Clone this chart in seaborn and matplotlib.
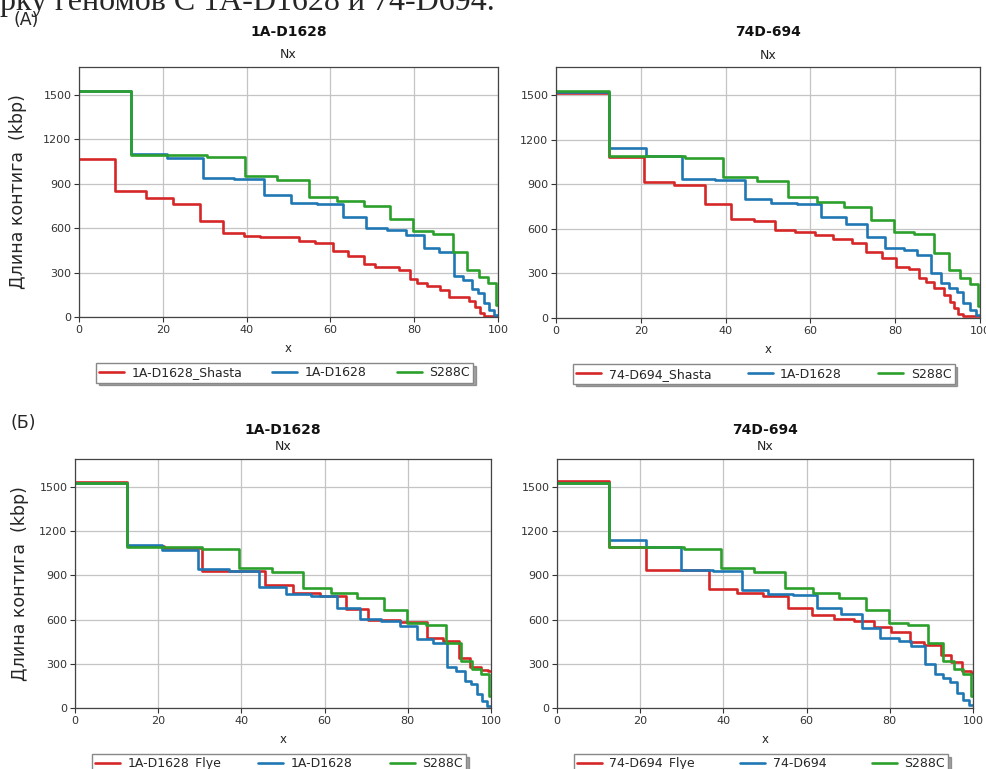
import matplotlib
matplotlib.use("Agg")
import matplotlib.pyplot as plt
from matplotlib.lines import Line2D
import numpy as np
import pandas as pd
import seaborn as sns

# ---------------- data (Nx step curves: x = start of step, y = contig length, kbp) ----------------
S288C_X = [0, 12.5, 30.5, 39.5, 47.3, 54.8, 61.6, 67.9, 74.3, 79.7, 84.4, 89.2, 92.7, 95.4, 97.6, 99.5]
S288C_Y = [1530, 1092, 1079, 950, 923, 813, 782, 747, 663, 579, 564, 440, 321, 268, 229, 80]

D1628_X = [0, 12.4, 20.9, 29.5, 36.9, 44.2, 50.7, 56.8, 63.0, 68.4, 73.5, 78.1, 82.3, 86.0, 89.5,
           91.7, 93.8, 95.3, 96.6, 97.8, 99.0]
D1628_Y = [1528, 1103, 1073, 941, 931, 823, 772, 762, 678, 604, 589, 554, 466, 440, 280,
           248, 186, 161, 93, 48, 14]

D694_X = [0, 12.6, 21.3, 29.7, 37.5, 44.5, 50.8, 56.8, 62.6, 68.3, 73.4, 77.7, 82.1, 85.2, 88.4,
          90.8, 92.7, 94.5, 96.1, 97.6, 99.1]
D694_Y = [1525, 1142, 1090, 937, 929, 802, 776, 765, 680, 635, 546, 473, 457, 424, 301,
          234, 201, 178, 100, 56, 22]

SHASTA_1A_X = [0, 8.6, 16.0, 22.5, 28.9, 34.3, 39.3, 43.2, 52.4, 56.4, 60.7, 64.2, 67.9, 70.7,
               76.3, 78.9, 80.7, 83.0, 86.2, 88.2, 93.0, 94.6, 95.6, 96.7]
SHASTA_1A_Y = [1070, 855, 807, 762, 652, 567, 549, 540, 515, 499, 448, 414, 358, 337,
               315, 256, 229, 207, 180, 133, 110, 67, 27, 9]

SHASTA_74_X = [0, 12.4, 20.8, 27.9, 35.1, 41.3, 46.6, 51.7, 56.4, 61.0, 65.4, 69.8, 73.0, 77.0,
               80.1, 83.3, 85.6, 87.2, 89.2, 91.6, 92.9, 93.9, 94.7, 96.1]
SHASTA_74_Y = [1513, 1083, 914, 896, 769, 664, 651, 591, 580, 557, 530, 502, 446, 406,
               341, 330, 267, 245, 201, 156, 111, 67, 27, 11]

FLYE_1A_X = [0, 12.6, 21.4, 30.6, 45.6, 52.5, 58.9, 65.2, 70.5, 78.1, 84.6, 88.5, 92.4, 95.0, 97.5, 99.3]
FLYE_1A_Y = [1534, 1100, 1088, 932, 838, 778, 762, 673, 596, 583, 475, 454, 336, 280, 261, 250]

FLYE_74_X = [0, 12.4, 21.3, 36.6, 43.2, 49.4, 55.6, 61.2, 66.5, 71.5, 76.1, 80.3, 84.8, 88.3,
             92.3, 94.8, 97.3, 99.4]
FLYE_74_Y = [1541, 1091, 938, 808, 779, 763, 681, 631, 603, 590, 551, 517, 450, 427,
             358, 310, 252, 240]

X_TICKS = [0, 20, 40, 60, 80, 100]
Y_TICKS = [0, 300, 600, 900, 1200, 1500]

RED, BLUE, GREEN = "#d62728", "#1f77b4", "#2ca02c"

# ---------------- style ----------------
sns.set_theme(style="ticks", rc={
    "axes.grid": True,
    "grid.color": "#c4c4c4",
    "grid.linewidth": 0.9,
    "axes.edgecolor": "#444444",
    "axes.linewidth": 0.9,
    "xtick.color": "#333333",
    "ytick.color": "#333333",
})
plt.rcParams["font.family"] = ["DejaVu Sans"]

W, H = 987, 769
fig = plt.figure(figsize=(W / 100, H / 100), dpi=100)


def rect(l, t, r, b):
    return [l / W, 1 - b / H, (r - l) / W, (b - t) / H]


panels = [
    dict(box=(79, 67, 498, 317), title="1A-D1628", tgap=35, ylab=True, ylx=-0.125,
         series=[("1A-D1628_Shasta", SHASTA_1A_X, SHASTA_1A_Y, RED),
                 ("1A-D1628", D1628_X, D1628_Y, BLUE),
                 ("S288C", S288C_X, S288C_Y, GREEN)]),
    dict(box=(556, 67, 980, 318), title="74D-694", tgap=35, ylab=False,
         series=[("74-D694_Shasta", SHASTA_74_X, SHASTA_74_Y, RED),
                 ("1A-D1628", D694_X, D694_Y, BLUE),
                 ("S288C", S288C_X, S288C_Y, GREEN)]),
    dict(box=(75, 459, 491, 708), title="1A-D1628", tgap=29, ylab=True, ylx=-0.11,
         series=[("1A-D1628_Flye", FLYE_1A_X, FLYE_1A_Y, RED),
                 ("1A-D1628", D1628_X, D1628_Y, BLUE),
                 ("S288C", S288C_X, S288C_Y, GREEN)]),
    dict(box=(557, 459, 973, 708), title="74D-694", tgap=29, ylab=False,
         series=[("74-D694_Flye", FLYE_74_X, FLYE_74_Y, RED),
                 ("74-D694", D694_X, D694_Y, BLUE),
                 ("S288C", S288C_X, S288C_Y, GREEN)]),
]

for p in panels:
    ax = fig.add_axes(rect(*p["box"]))
    frames = []
    for name, xs, ys, _c in p["series"]:
        frames.append(pd.DataFrame({"x": list(xs) + [100.0],
                                    "y": list(ys) + [ys[-1]],
                                    "series": name}))
    df = pd.concat(frames, ignore_index=True)
    names = [s[0] for s in p["series"]]
    cols = [s[3] for s in p["series"]]
    sns.lineplot(data=df, x="x", y="y", hue="series", hue_order=names,
                 palette=cols, drawstyle="steps-post", estimator=None, sort=False,
                 linewidth=1.9, legend=False, ax=ax)
    ax.set_xlim(0, 100)
    ax.set_ylim(0, 1690)
    ax.set_xticks(X_TICKS)
    ax.set_yticks(Y_TICKS)
    ax.tick_params(axis="both", labelsize=8, length=3.5, width=0.8, direction="out", pad=2)
    ax.set_xlabel("x", fontsize=8.5, labelpad=5)
    if p["ylab"]:
        ax.set_ylabel("Длина контига  (kbp)", fontsize=12.5)
        ax.yaxis.set_label_coords(p["ylx"], 0.5)
    else:
        ax.set_ylabel("")
    for s in ax.spines.values():
        s.set_visible(True)
    ax.annotate("Nx", xy=(0.5, 1.0), xycoords="axes fraction", xytext=(0, 12 * 0.72),
                textcoords="offset points", ha="center", va="center", fontsize=9, color="#222222")
    ax.annotate(p["title"], xy=(0.5, 1.0), xycoords="axes fraction",
                xytext=(0, p["tgap"] * 0.72), textcoords="offset points",
                ha="center", va="center", fontsize=10, fontweight="bold", color="#111111")
    handles = [Line2D([0], [0], color=c, lw=1.9) for c in cols]
    ax.legend(handles, names, loc="upper center", bbox_to_anchor=(0.04, -0.185, 0.9, 0),
              mode="expand", ncol=3, fontsize=9, frameon=True, fancybox=False, shadow=True,
              borderaxespad=0, borderpad=0.25, handlelength=2.0, handletextpad=0.6,
              edgecolor="#888888", framealpha=1)

fig.text(26 / W, 1 - 20 / H, "(А)", fontsize=12.5, ha="center", va="center")
fig.text(23 / W, 1 - 423 / H, "(Б)", fontsize=12.5, ha="center", va="center")
fig.text(0 / W, 1 - 10 / H, "рку геномов С 1А-D1628 и 74-D694.", fontsize=23,
         family="Liberation Serif", ha="left", va="baseline")

fig.savefig("out.png", dpi=100)
